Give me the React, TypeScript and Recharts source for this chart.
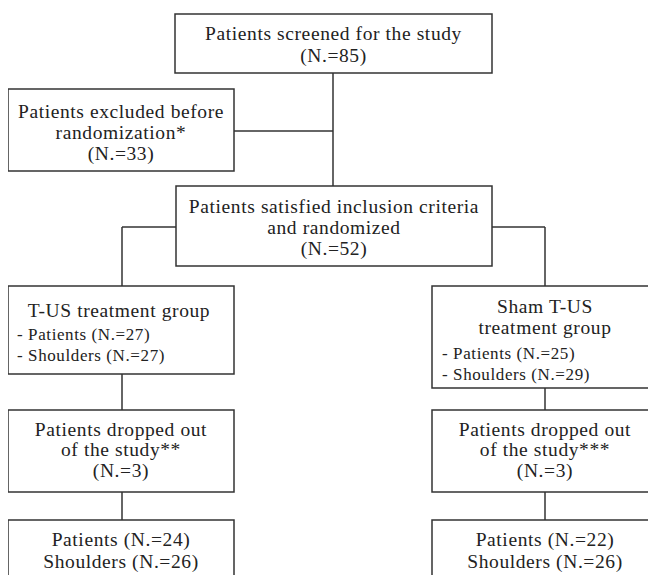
import React from 'react';
import { ScatterChart, Scatter, XAxis, YAxis, ReferenceArea, ReferenceLine } from 'recharts';

// Flowchart layout in page-pixel units (x: 8..656, y: 8..575)
const boxes = [
  { id: 'screened', x1: 175, x2: 492, y1: 14, y2: 73 },
  { id: 'excluded', x1: 8, x2: 234, y1: 89, y2: 171 },
  { id: 'randomized', x1: 176, x2: 492, y1: 186, y2: 266 },
  { id: 'tus', x1: 8, x2: 234, y1: 286, y2: 374 },
  { id: 'sham', x1: 432, x2: 658, y1: 286, y2: 388 },
  { id: 'dropL', x1: 8, x2: 234, y1: 410, y2: 492 },
  { id: 'dropR', x1: 432, x2: 658, y1: 410, y2: 492 },
  { id: 'finalL', x1: 8, x2: 234, y1: 520, y2: 600 },
  { id: 'finalR', x1: 432, x2: 658, y1: 520, y2: 600 },
];

const connectors = [
  { x1: 333, y1: 73, x2: 333, y2: 186 },
  { x1: 234, y1: 131, x2: 333, y2: 131 },
  { x1: 122, y1: 227, x2: 176, y2: 227 },
  { x1: 122, y1: 227, x2: 122, y2: 286 },
  { x1: 492, y1: 227, x2: 545, y2: 227 },
  { x1: 545, y1: 227, x2: 545, y2: 286 },
  { x1: 122, y1: 374, x2: 122, y2: 410 },
  { x1: 545, y1: 388, x2: 545, y2: 410 },
  { x1: 122, y1: 492, x2: 122, y2: 520 },
  { x1: 545, y1: 492, x2: 545, y2: 520 },
];

// Centered box labels: anchor point = first baseline, following lines every `gap`
const titleLabels = [
  { x: 333.5, y: 40, gap: 22, lines: ['Patients screened for the study', '(N.=85)'] },
  { x: 121, y: 118, gap: 21, lines: ['Patients excluded before', 'randomization*', '(N.=33)'] },
  { x: 334, y: 213, gap: 20.8, lines: ['Patients satisfied inclusion criteria', 'and randomized', '(N.=52)'] },
  { x: 119, y: 317, gap: 21, lines: ['T-US treatment group'] },
  { x: 545, y: 313, gap: 21, lines: ['Sham T-US', 'treatment group'] },
  { x: 121, y: 435.5, gap: 20.6, lines: ['Patients dropped out', 'of the study**', '(N.=3)'] },
  { x: 545, y: 435.5, gap: 20.6, lines: ['Patients dropped out', 'of the study***', '(N.=3)'] },
  { x: 121, y: 546, gap: 21.5, lines: ['Patients (N.=24)', 'Shoulders (N.=26)'] },
  { x: 545, y: 546, gap: 21.5, lines: ['Patients (N.=22)', 'Shoulders (N.=26)'] },
];

// Left-aligned bullet lists inside the two treatment-group boxes
const bulletLabels = [
  { x: 17, y: 340, gap: 21, lines: ['- Patients (N.=27)', '- Shoulders (N.=27)'] },
  { x: 442, y: 359, gap: 20.5, lines: ['- Patients (N.=25)', '- Shoulders (N.=29)'] },
];

const FONT = "'Liberation Serif', 'Times New Roman', serif";
const INK = '#222';
const LINE = '#333';

const makeLabel = (size: number, anchor: 'middle' | 'start') => (props: any) => {
  const { cx, cy, payload } = props;
  return (
    <text
      x={cx}
      y={cy}
      textAnchor={anchor}
      fontFamily={FONT}
      fontSize={size}
      letterSpacing={0.6}
      fill={INK}
    >
      {payload.lines.map((t: string, i: number) => (
        <tspan key={i} x={cx} y={cy + i * payload.gap} textAnchor={anchor}>
          {t}
        </tspan>
      ))}
    </text>
  );
};

export default function App() {
  return (
    <div style={{ width: 648, height: 567, background: '#fff' }}>
      <ScatterChart width={648} height={567} margin={{ top: 0, right: 0, bottom: 0, left: 0 }}>
        <XAxis type="number" dataKey="x" domain={[8, 656]} hide allowDataOverflow />
        <YAxis type="number" dataKey="y" domain={[8, 575]} reversed hide allowDataOverflow />
        {connectors.map((c, i) => (
          <ReferenceLine
            key={'c' + i}
            segment={[{ x: c.x1, y: c.y1 }, { x: c.x2, y: c.y2 }]}
            stroke={LINE}
            strokeWidth={1.5}
            ifOverflow="visible"
          />
        ))}
        {boxes.map((b) => (
          <ReferenceArea
            key={b.id}
            x1={b.x1}
            x2={b.x2}
            y1={b.y1}
            y2={b.y2}
            fill="none"
            stroke={LINE}
            strokeWidth={1.5}
            ifOverflow="visible"
          />
        ))}
        <Scatter data={titleLabels} shape={makeLabel(19.5, 'middle')} isAnimationActive={false} />
        <Scatter data={bulletLabels} shape={makeLabel(17, 'start')} isAnimationActive={false} />
      </ScatterChart>
    </div>
  );
}
